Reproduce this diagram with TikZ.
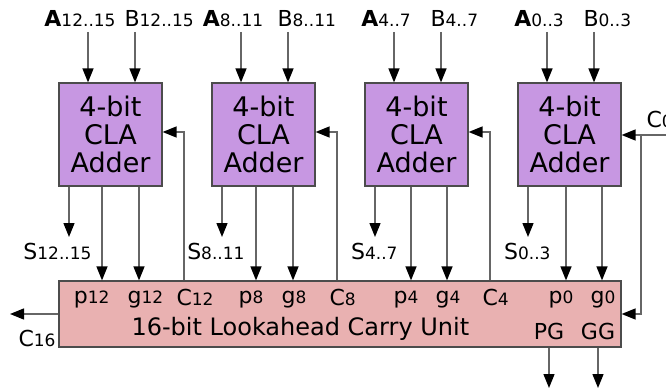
\documentclass[tikz,border=0pt]{standalone}
\usepackage{fontspec}
\setmainfont{DejaVu Sans}
\usetikzlibrary{arrows.meta, calc}

\definecolor{clafill}{RGB}{199,151,226}
\definecolor{lcufill}{RGB}{233,177,177}
\newcommand{\ix}[1]{{\fontsize{17}{17}\selectfont #1}}

\begin{document}
\begin{tikzpicture}[x=1pt, y=-1pt, font=\fontsize{22}{22}\selectfont,
    adder/.style={draw=black!70, line width=1.2pt, fill=clafill, minimum size=103pt,
        inner sep=0pt, align=center, font=\fontsize{27}{28}\selectfont},
    lcu/.style={draw=black!70, line width=1.2pt, fill=lcufill, minimum width=562pt,
        minimum height=66pt, inner sep=0pt},
    wire/.style={draw=black!60, line width=1.4pt},
    arr/.style={wire, -{Triangle[length=14pt, width=11pt, color=black]}}]
    \useasboundingbox (0,0) rectangle (666,390);

    \node[lcu] (lcu) at (340,314) {};
    \node[anchor=base west, font=\fontsize{24}{24}\selectfont] (lcut) at (128,335) {16-bit Lookahead Carry Unit};

    \foreach \i/\x/\lo/\hi/\po/\go in {3/59/12/15/43/80, 2/212/8/11/44/81, 1/365/4/7/46/82, 0/518/0/3/48/84} {
        \node[adder] (add\i) at (\x+51.5,134.5) {4-bit\\CLA\\Adder};
        % operand inputs
        \node[anchor=base] (a\i) at (\x+21,27) {\textbf{A}\ix{\lo..\hi}};
        \node[anchor=base west] (b\i) at (\x+62,27) {B\ix{\lo..\hi}};
        \coordinate (ax\i) at (\x+29,32);
        \coordinate (bx\i) at (\x+76,32);
        \draw[arr] (ax\i) -- (ax\i |- add\i.north);
        \draw[arr] (bx\i) -- (bx\i |- add\i.north);
        % sum out
        \node[anchor=base east] (s\i) at (\x+36,259) {S\ix{\lo..\hi}};
        \coordinate (sx\i) at (\x+10,237);
        \draw[arr] (add\i.south -| sx\i) -- (sx\i);
        % propagate / generate
        \coordinate (px\i) at (\x+\po,0);
        \coordinate (gx\i) at (\x+\go,0);
        \node[anchor=base east] (p\i) at (\x+\po+11,303) {p\ix{\lo}};
        \node[anchor=base west] (g\i) at (\x+\go-15,303) {g\ix{\lo}};
        \draw[arr] (add\i.south -| px\i) -- (lcu.north -| px\i);
        \draw[arr] (add\i.south -| gx\i) -- (lcu.north -| gx\i);
        % carry back in
        \ifnum\i>0
            \node[anchor=base west] (c\i) at (\x+114,305) {C\ix{\lo}};
            \coordinate (cx\i) at (\x+125,132);
            \draw[arr] (lcu.north -| cx\i) -- (cx\i) -- (cx\i -| add\i.east);
        \fi
    }

    % carry in
    \coordinate (c0in) at (666,135);
    \coordinate (c0j) at (641,135);
    \node[anchor=base west] (c0) at (643,128) {C\ix{0}};
    \draw[arr] (c0in) -- (add0.east |- c0in);
    \draw[arr] (c0j) -- (c0j |- lcu.east) -- (lcu.east);

    % carry out
    \coordinate (c16e) at (10,314);
    \node[anchor=base west] (c16) at (15,346) {C\ix{16}};
    \draw[arr] (lcu.west) -- (c16e);

    % group signals
    \node[anchor=base] (pg) at (549,339) {PG};
    \node[anchor=base] (gg) at (598,339) {GG};
    \draw[arr] (lcu.south -| pg) -- (pg |- 0,388);
    \draw[arr] (lcu.south -| gg) -- (gg |- 0,388);

\end{tikzpicture}
\end{document}
